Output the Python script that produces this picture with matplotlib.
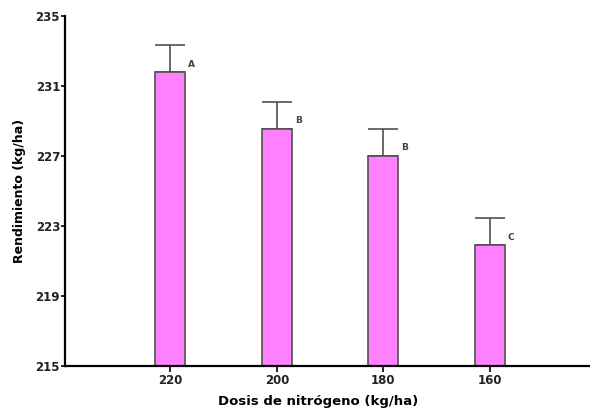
import numpy as np
import matplotlib
matplotlib.use("Agg")
import matplotlib.pyplot as plt

# nitrogen doses and mean yield with standard error
dosis = ["220", "200", "180", "160"]
rendimiento = [231.8, 228.55, 227.0, 221.9]
error = [1.55, 1.55, 1.55, 1.55]
letras = ["A", "B", "B", "C"]

fig = plt.figure(figsize=(5.9, 4.12), dpi=100)
ax = fig.add_axes([0.110, 0.112, 0.890, 0.849])

x = np.arange(len(dosis))
ax.bar(x, rendimiento, width=0.28, bottom=0, color="#ff80ff",
       edgecolor="#505050", linewidth=1.2, zorder=2)
ax.errorbar(x, rendimiento, yerr=[np.zeros(len(error)), error], fmt="none",
            ecolor="#505050", elinewidth=1.2, capsize=10.5, capthick=1.2, zorder=1)

for xi, yi, l in zip(x, rendimiento, letras):
    ax.text(xi + 0.17, yi + 0.2, l, fontsize=6.5, color="#404040",
            ha="left", va="bottom", fontweight="bold")

ax.set_ylim(215, 235)
ax.set_xlim(-0.99, 3.94)
ax.set_yticks([215, 219, 223, 227, 231, 235])
ax.set_xticks(x)
ax.set_xticklabels(dosis)

ax.spines["top"].set_visible(False)
ax.spines["right"].set_visible(False)
ax.spines["left"].set_linewidth(1.6)
ax.spines["bottom"].set_linewidth(1.6)
ax.tick_params(axis="y", labelsize=8.5, width=1.2, length=3, pad=0.5)
ax.tick_params(axis="x", labelsize=8.5, width=1.2, length=4, pad=2)
for t in ax.get_xticklabels() + ax.get_yticklabels():
    t.set_fontweight("bold")
    t.set_color("#222222")

ax.set_ylabel("Rendimiento (kg/ha)", fontsize=9, fontweight="bold", labelpad=7)
ax.set_xlabel("Dosis de nitrógeno (kg/ha)", fontsize=9.5, fontweight="bold")
ax.xaxis.set_label_coords(0.482, -0.082)

fig.savefig("out.png", dpi=100)
